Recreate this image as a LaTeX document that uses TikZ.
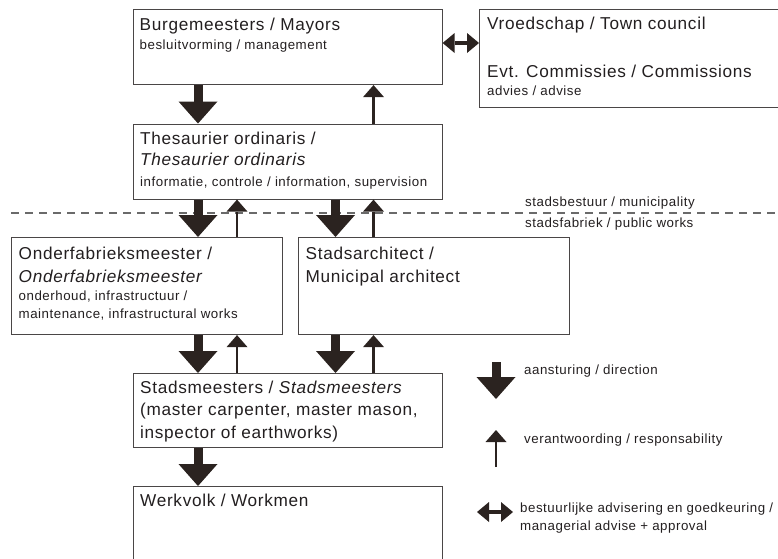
\documentclass[tikz,border=0pt]{standalone}
\usepackage{fontspec}
\setmainfont{Liberation Sans}[LetterSpace=4]
\usetikzlibrary{arrows.meta,calc}

\definecolor{ink}{HTML}{231F20}
\definecolor{frame}{HTML}{4A4646}
\definecolor{arrowc}{HTML}{2B2320}
\definecolor{dashc}{HTML}{6A6A6A}

\tikzset{
  box/.style={draw=frame, line width=1.1pt, fill=white, rectangle, anchor=north west, inner sep=0pt},
  bigtxt/.style={text=ink, anchor=base west, inner sep=0pt, font=\fontsize{17.2}{21}\selectfont},
  smalltxt/.style={text=ink, anchor=base west, inner sep=0pt, font=\fontsize{13.3}{16}\selectfont},
  dirarrow/.style={draw=arrowc, line width=9pt,
    -{Triangle[width=39pt,length=22pt,line width=0pt]}},
  resparrow/.style={draw=arrowc, line width=2.5pt,
    -{Triangle[width=21pt,length=12pt,line width=0pt]}},
  advarrow/.style={draw=arrowc, line width=3.5pt,
    {Triangle[width=20pt,length=12pt,line width=0pt]}-{Triangle[width=20pt,length=12pt,line width=0pt]}},
}

\begin{document}
\begin{tikzpicture}[x=1pt,y=-1pt]
\path[use as bounding box] (0,0) rectangle (778,558);
\clip (0,0) rectangle (778,558);

% boxes
\node[box, minimum width=309pt, minimum height=75pt]  (burg)  at (132.5,9)   {};
\node[box, minimum width=340pt, minimum height=98pt]  (vroed) at (479,9)     {};
\node[box, minimum width=309pt, minimum height=75pt]  (thes)  at (132.5,123.5) {};
\node[box, minimum width=271pt, minimum height=97pt]  (onder) at (11,237)    {};
\node[box, minimum width=271pt, minimum height=97pt]  (archi) at (298,237)   {};
\node[box, minimum width=309pt, minimum height=74pt]  (stads) at (132.5,373) {};
\node[box, minimum width=309pt, minimum height=100pt] (werk)  at (132.5,486) {};

% box texts
\node[bigtxt]   (burg1)  at ($(burg.north west)+(7,21)$)  {Burgemeesters / Mayors};
\node[smalltxt] (burg2)  at ($(burg.north west)+(7,40.5)$) {besluitvorming / management};

\node[bigtxt]   (vroed1) at ($(vroed.north west)+(8,20.5)$) {Vroedschap / Town council};
\node[bigtxt]   (vroed2) at ($(vroed.north west)+(8,68.5)$) {Evt. Commissies / Commissions};
\node[smalltxt] (vroed3) at ($(vroed.north west)+(8,86)$)   {advies / advise};

\node[bigtxt]   (thes1)  at ($(thes.north west)+(7.5,20.5)$) {Thesaurier ordinaris /};
\node[bigtxt]   (thes2)  at ($(thes.north west)+(7.5,41.5)$) {\itshape Thesaurier ordinaris};
\node[smalltxt] (thes3)  at ($(thes.north west)+(7.5,62.5)$) {informatie, controle / information, supervision};

\node[bigtxt]   (onder1) at ($(onder.north west)+(7.5,22.5)$) {Onderfabrieksmeester /};
\node[bigtxt]   (onder2) at ($(onder.north west)+(7.5,45)$)   {\itshape Onderfabrieksmeester};
\node[smalltxt] (onder3) at ($(onder.north west)+(7.5,63.5)$) {onderhoud, infrastructuur /};
\node[smalltxt] (onder4) at ($(onder.north west)+(7.5,81.5)$) {maintenance, infrastructural works};

\node[bigtxt]   (archi1) at ($(archi.north west)+(7.5,22.5)$) {Stadsarchitect /};
\node[bigtxt]   (archi2) at ($(archi.north west)+(7.5,45)$)   {Municipal architect};

\node[bigtxt]   (stads1) at ($(stads.north west)+(7.5,20.5)$) {Stadsmeesters / \textit{Stadsmeesters}};
\node[bigtxt]   (stads2) at ($(stads.north west)+(7.5,42.5)$) {(master carpenter, master mason,};
\node[bigtxt]   (stads3) at ($(stads.north west)+(7.5,65)$)   {inspector of earthworks)};

\node[bigtxt]   (werk1)  at ($(werk.north west)+(7.5,20.7)$)  {Werkvolk / Workmen};

% divider between municipality and public works
\coordinate (dashL) at (11,213);
\coordinate (dashR) at (778,213);
\draw[dashc, line width=1.3pt, dash pattern=on 8pt off 6pt] (dashL) -- (dashR);
\node[smalltxt] (muni) at (525,206) {stadsbestuur / municipality};
\node[smalltxt] (pubw) at (525,227) {stadsfabriek / public works};

% columns of the connectors
\coordinate (cA) at (198,0);
\coordinate (cB) at (237,0);
\coordinate (cC) at (335.5,0);
\coordinate (cD) at (373.5,0);

% direction (down) and responsibility (up)
\draw[dirarrow]  (burg.south -| cA) -- (thes.north -| cA);
\draw[resparrow] (thes.north -| cD) -- (burg.south -| cD);

\draw[dirarrow]  (thes.south -| cA) -- (onder.north -| cA);
\draw[resparrow] (onder.north -| cB) -- (thes.south -| cB);
\draw[dirarrow]  (thes.south -| cC) -- (archi.north -| cC);
\draw[resparrow] (archi.north -| cD) -- (thes.south -| cD);

\draw[dirarrow]  (onder.south -| cA) -- (stads.north -| cA);
\draw[resparrow] (stads.north -| cB) -- (onder.south -| cB);
\draw[dirarrow]  (archi.south -| cC) -- (stads.north -| cC);
\draw[resparrow] (stads.north -| cD) -- (archi.south -| cD);

\draw[dirarrow]  (stads.south -| cA) -- (werk.north -| cA);

% advice and approval
\coordinate (rowAdv) at (0,43);
\draw[advarrow] (burg.east |- rowAdv) -- (vroed.west |- rowAdv);

% legend
\coordinate (legDirTop) at (496,362);
\coordinate (legDirBot) at (496,399);
\draw[dirarrow] (legDirTop) -- (legDirBot);
\node[smalltxt] (legDir) at (524,374) {aansturing / direction};

\coordinate (legRespBot) at (496,467);
\coordinate (legRespTop) at (496,430);
\draw[resparrow] (legRespBot) -- (legRespTop);
\node[smalltxt] (legResp) at (524,443) {verantwoording / responsability};

\coordinate (legAdvL) at (477,512);
\coordinate (legAdvR) at (513,512);
\draw[advarrow] (legAdvL) -- (legAdvR);
\node[smalltxt] (legAdv1) at (520,512.5) {bestuurlijke advisering en goedkeuring /};
\node[smalltxt] (legAdv2) at (520,530.5) {managerial advise + approval};
\end{tikzpicture}
\end{document}
